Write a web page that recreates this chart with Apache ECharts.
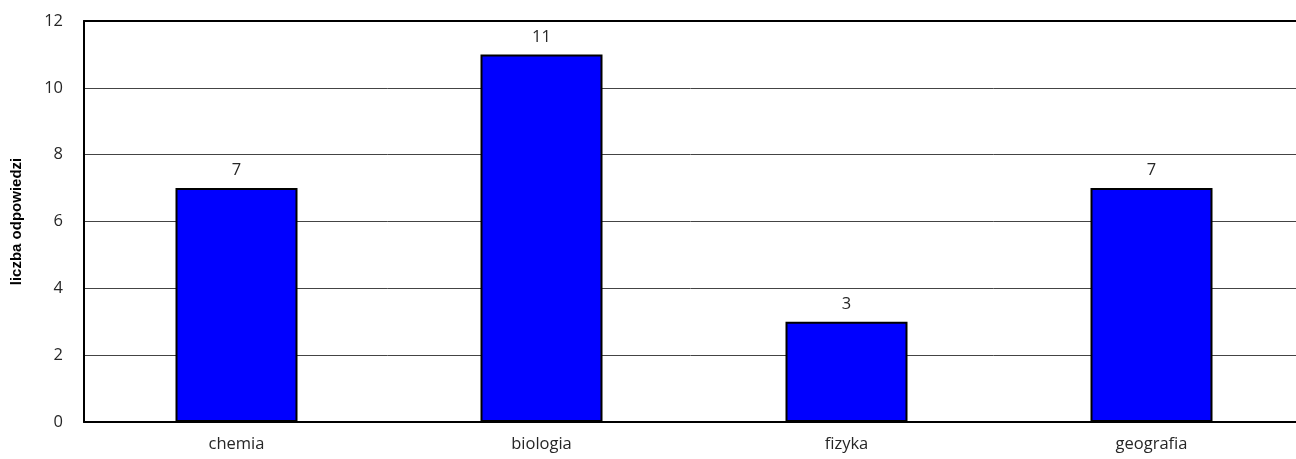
<!DOCTYPE html>
<html lang="pl">
<head>
    <meta charset="UTF-8">
    <title>liczba odpowiedzi</title>
    <script src="https://cdn.jsdelivr.net/npm/echarts@6/dist/echarts.min.js"></script>
    <style>
        html, body { margin: 0; padding: 0; background: #fff; }
        #main { width: 1296px; height: 459px; }
    </style>
</head>
<body>
<div id="main"></div>
<script>
    // dane z wykresu
    var categories = ['chemia', 'biologia', 'fizyka', 'geografia'];
    var values = [7, 11, 3, 7];
    var yTicks = [0, 2, 4, 6, 8, 10, 12];

    var font = '"Open Sans", sans-serif';
    var chart = echarts.init(document.getElementById('main'));
    var option = {
        animation: false,
        grid: { left: 84, right: -8, top: 21, bottom: 37, containLabel: false, outerBoundsMode: 'none' },
        xAxis: [{
            type: 'category',
            data: categories,
            axisLine: { lineStyle: { color: '#000', width: 2 } },
            axisTick: { show: false },
            axisLabel: { color: '#262626', fontFamily: font, fontSize: 16.5, margin: 14 }
        }, {
            // górna ramka
            type: 'category',
            position: 'top',
            data: categories,
            axisLine: { lineStyle: { color: '#000', width: 2 } },
            axisTick: { show: false },
            axisLabel: { show: false }
        }],
        yAxis: {
            type: 'value',
            min: yTicks[0],
            max: yTicks[yTicks.length - 1],
            interval: 2,
            name: 'liczba odpowiedzi',
            nameLocation: 'middle',
            nameGap: 60,
            nameTextStyle: { color: '#000', fontFamily: '"Liberation Sans", sans-serif', fontSize: 15, fontWeight: 'bold' },
            axisLine: { show: true, lineStyle: { color: '#000', width: 2 } },
            axisTick: { show: false },
            axisLabel: { color: '#262626', fontFamily: font, fontSize: 16.5, margin: 21 },
            splitLine: { lineStyle: { color: '#444', width: 1 } }
        },
        series: [{
            type: 'bar',
            data: values,
            barWidth: '40%',
            itemStyle: { color: '#0000ff', borderColor: '#000', borderWidth: 2 },
            label: { show: true, position: 'top', distance: 9, color: '#262626', fontFamily: font, fontSize: 16.5 }
        }]
    };
    chart.setOption(option);
</script>
</body>
</html>
